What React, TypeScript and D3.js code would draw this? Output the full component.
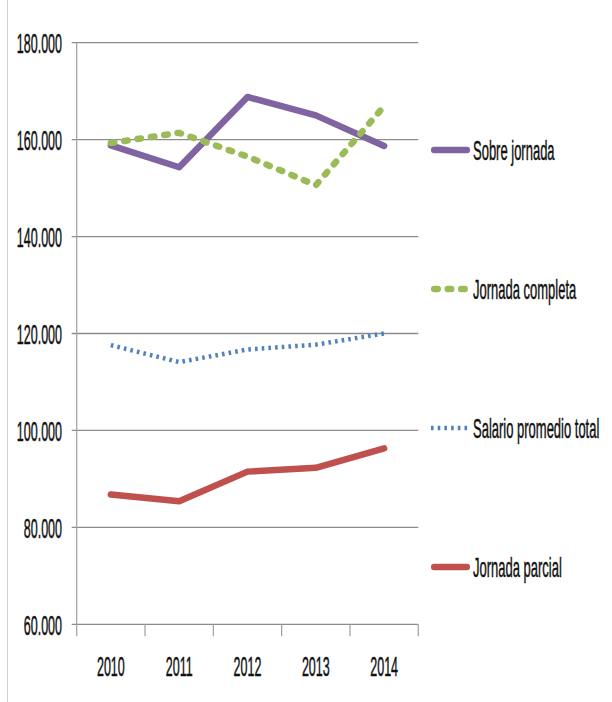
import React, { useEffect, useRef } from 'react';
import * as d3 from 'd3';

const years = ['2010', '2011', '2012', '2013', '2014'];
const yTicks = [60000, 80000, 100000, 120000, 140000, 160000, 180000];

const sobreJornada = [158800, 154300, 168800, 165000, 158700];
const jornadaCompleta = [159300, 161400, 156500, 150600, 166900];
const salarioPromedio = [117600, 114100, 116700, 117700, 120000];
const jornadaParcial = [86800, 85400, 91500, 92300, 96300];

const seriesNames = ['Sobre jornada', 'Jornada completa', 'Salario promedio total', 'Jornada parcial'];

const App: React.FC = () => {
  const svgRef = useRef<SVGSVGElement>(null);

  useEffect(() => {
    if (!svgRef.current) return;
    const svg = d3.select(svgRef.current);
    svg.selectAll('*').remove();

    const width = 612;
    const height = 702;
    const left = 76.7;
    const right = 418.3;
    const top = 42.7;
    const bottom = 624.3;

    // text is tall and narrow in the original, so squeeze it
    const fontSize = 20;
    const sy = 1.36;

    const x = d3.scaleBand<string>().domain(years).range([left, right]).paddingInner(0).paddingOuter(0);
    const y = d3.scaleLinear().domain([60000, 180000]).range([bottom, top]);
    const cx = (d: string) => (x(d) || 0) + x.bandwidth() / 2;

    svg.attr('width', width).attr('height', height);
    svg.append('rect').attr('width', width).attr('height', height).attr('fill', '#fff');

    // chart frame edge on the left
    svg.append('line')
      .attr('x1', 7.5).attr('x2', 7.5).attr('y1', 0).attr('y2', height)
      .attr('stroke', '#d0d0d0').attr('stroke-width', 1);

    const label = (g: any, tx: number, ty: number, text: string, anchor: string, sx: number) => {
      g.append('text')
        .attr('transform', `translate(${tx},${ty}) scale(${sx},${sy})`)
        .attr('text-anchor', anchor)
        .attr('dy', '0.36em')
        .attr('font-family', '"Liberation Sans", Arial, sans-serif')
        .attr('font-size', fontSize)
        .attr('fill', '#111')
        .attr('stroke', '#111')
        .attr('stroke-width', 0.35)
        .text(text);
    };

    // gridlines
    const grid = svg.append('g');
    yTicks.forEach(t => {
      grid.append('line')
        .attr('x1', left - 5).attr('x2', right)
        .attr('y1', y(t)).attr('y2', y(t))
        .attr('stroke', '#8c8c8c').attr('stroke-width', 1.3);
      label(grid, 62, y(t) + 1, d3.format(',')(t).replace(/,/g, '.'), 'end', 0.625);
    });

    // value axis line
    svg.append('line')
      .attr('x1', left).attr('x2', left).attr('y1', top).attr('y2', bottom + 12)
      .attr('stroke', '#a0a0a0').attr('stroke-width', 1.2);

    // category ticks at band edges
    const edges = years.map(d => x(d) || 0).concat([right]);
    edges.slice(1).forEach(e => {
      svg.append('line')
        .attr('x1', e).attr('x2', e).attr('y1', bottom).attr('y2', bottom + 12)
        .attr('stroke', '#a0a0a0').attr('stroke-width', 1.2);
    });
    years.forEach(d => label(svg, cx(d), 666.5, d, 'middle', 0.625));

    const series = [
      { name: seriesNames[0], values: sobreJornada, color: '#8064A2', width: 6.5, dash: null, cap: 'round' },
      { name: seriesNames[1], values: jornadaCompleta, color: '#9BBB59', width: 6.5, dash: '3.5 10', cap: 'round' },
      { name: seriesNames[2], values: salarioPromedio, color: '#4F81BD', width: 4.5, dash: '2.6 4.1', cap: 'butt' },
      { name: seriesNames[3], values: jornadaParcial, color: '#C0504D', width: 6.5, dash: null, cap: 'round' },
    ];

    const line = d3.line<number>()
      .x((_, i) => cx(years[i]))
      .y(v => y(v));

    // draw order: parcial, salario, sobre, completa
    [3, 2, 0, 1].forEach(i => {
      const s = series[i];
      svg.append('path')
        .attr('d', line(s.values))
        .attr('fill', 'none')
        .attr('stroke', s.color)
        .attr('stroke-width', s.width)
        .attr('stroke-linejoin', 'round')
        .attr('stroke-linecap', s.cap)
        .attr('stroke-dasharray', s.dash);
    });

    // legend
    const legendY = d3.scalePoint<string>().domain(seriesNames).range([150, 567]);
    series.forEach(s => {
      const ly = legendY(s.name) || 0;
      const lw = s.cap === 'round' ? 3.2 : 0;
      svg.append('line')
        .attr('x1', 431 + lw).attr('x2', 470 - lw)
        .attr('y1', ly).attr('y2', ly)
        .attr('stroke', s.color)
        .attr('stroke-width', s.width)
        .attr('stroke-linecap', s.cap)
        .attr('stroke-dasharray', s.dash);
      label(svg, 473, ly, s.name, 'start', 0.65);
    });
  }, []);

  return (
    <div style={{ position: 'absolute', left: 0, top: 0, width: 612, height: 702 }}>
      <svg ref={svgRef} style={{ display: 'block' }} />
    </div>
  );
};

export default App;
